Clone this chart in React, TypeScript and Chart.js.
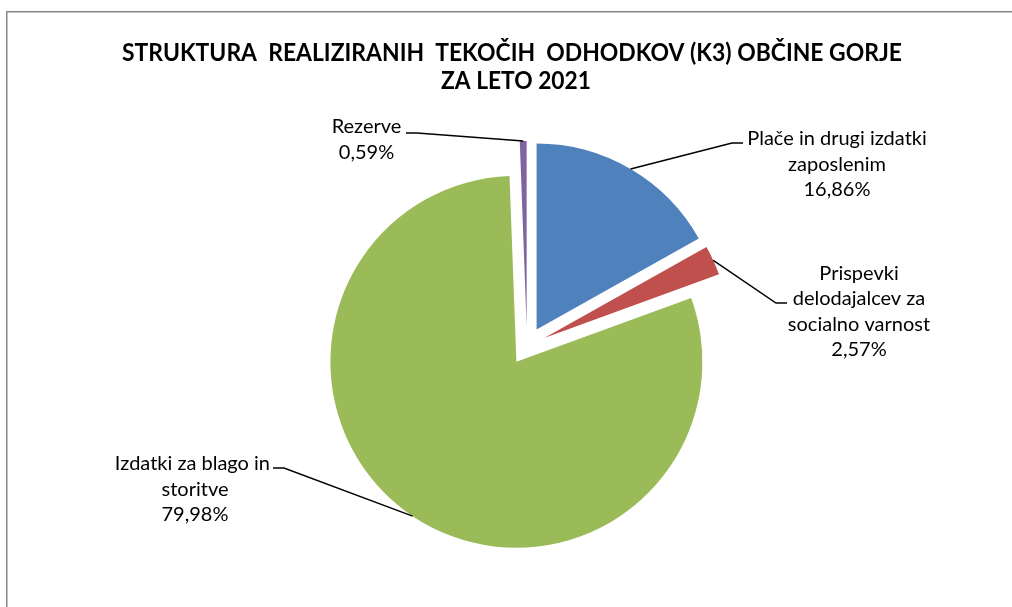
import React, { useEffect, useRef } from "react";
import { Chart, registerables } from "chart.js";

Chart.register(...registerables);

// ---- data ----
const categories = [
  "Plače in drugi izdatki zaposlenim",
  "Prispevki delodajalcev za socialno varnost",
  "Izdatki za blago in storitve",
  "Rezerve",
];
const shares = [16.86, 2.57, 79.98, 0.59];
const labelLines = [
  ["Plače in drugi izdatki", "zaposlenim"],
  ["Prispevki", "delodajalcev za", "socialno varnost"],
  ["Izdatki za blago in ", "storitve"],
  ["Rezerve"],
];
const titleLines = [
  "STRUKTURA  REALIZIRANIH  TEKOČIH  ODHODKOV (K3) OBČINE GORJE",
  "ZA LETO 2021",
];

// ---- styles / layout ----
const colors = ["#4F81BD", "#C0504D", "#9BBB59", "#8064A2"];
const EXPLODE = 19;
const PIE_RADIUS = 186;
const LABEL_FONT = "20px Lato, 'Open Sans', sans-serif";
const TITLE_FONT = "bold 25px Lato, 'Open Sans', sans-serif";
const LINE_H = 25.5;
const labelLayout = [
  { cx: 837, y0: 145, ax: 743, ay: 143, dir: 1 },
  { cx: 859, y0: 279.5, ax: 787, ay: 303, dir: 1 },
  { cx: 195, y0: 470, ax: 273, ay: 468, dir: -1 },
  { cx: 366.5, y0: 133, ax: 406, ay: 133, dir: -1 },
];
const titleLayout = [
  { cx: 512, y: 60.5, maxW: 780 },
  { cx: 516, y: 89, maxW: 150 },
];

const fmtPct = (v: number) => v.toFixed(2).replace(".", ",") + "%";

const explodePlugin = {
  id: "explode",
  afterDatasetUpdate(chart: any, args: any) {
    const meta = chart.getDatasetMeta(args.index);
    meta.data.forEach((arc: any) => {
      const mid = (arc.startAngle + arc.endAngle) / 2;
      arc.x += EXPLODE * Math.cos(mid);
      arc.y += EXPLODE * Math.sin(mid);
    });
  },
};

const decorPlugin = {
  id: "decor",
  beforeDraw(chart: any) {
    const ctx = chart.ctx;
    ctx.save();
    ctx.strokeStyle = "#878787";
    ctx.lineWidth = 1.5;
    ctx.beginPath();
    ctx.moveTo(6.75, chart.height);
    ctx.lineTo(6.75, 11.75);
    ctx.lineTo(chart.width, 11.75);
    ctx.stroke();
    ctx.restore();
  },
  afterDatasetsDraw(chart: any) {
    const ctx = chart.ctx;
    const meta = chart.getDatasetMeta(0);
    ctx.save();
    meta.data.forEach((arc: any, i: number) => {
      const L = labelLayout[i];
      const mid = (arc.startAngle + arc.endAngle) / 2;
      const px = arc.x + arc.outerRadius * Math.cos(mid);
      const py = arc.y + arc.outerRadius * Math.sin(mid);
      ctx.strokeStyle = "#000";
      ctx.lineWidth = 1.5;
      ctx.beginPath();
      ctx.moveTo(px, py);
      ctx.lineTo(L.ax - L.dir * 11, L.ay);
      ctx.lineTo(L.ax, L.ay);
      ctx.stroke();
      const lines = [...labelLines[i], fmtPct(shares[i])];
      ctx.fillStyle = "#000";
      ctx.font = LABEL_FONT;
      ctx.textAlign = "center";
      ctx.textBaseline = "alphabetic";
      lines.forEach((t, k) => ctx.fillText(t, L.cx, L.y0 + k * LINE_H));
    });
    ctx.font = TITLE_FONT;
    ctx.fillStyle = "#000";
    ctx.textAlign = "center";
    ctx.textBaseline = "alphabetic";
    titleLines.forEach((t, k) => {
      const T = titleLayout[k];
      ctx.fillText(t, T.cx, T.y, T.maxW);
    });
    ctx.restore();
  },
};

export default function App() {
  const ref = useRef<HTMLCanvasElement>(null);
  useEffect(() => {
    if (!ref.current) return;
    const chart = new Chart(ref.current, {
      type: "pie",
      data: {
        labels: categories,
        datasets: [
          {
            data: shares,
            backgroundColor: colors,
            borderWidth: 0,
          },
        ],
      },
      options: {
        responsive: false,
        animation: false,
        radius: PIE_RADIUS,
        layout: { padding: { left: 42, top: 85, right: 0, bottom: 0 } },
        plugins: {
          legend: { display: false },
          tooltip: { enabled: false },
          title: { display: false },
        },
      } as any,
      plugins: [explodePlugin, decorPlugin],
    });
    return () => chart.destroy();
  }, []);
  return (
    <div style={{ position: "absolute", left: 0, top: 0, width: 1012, height: 607, background: "#fff" }}>
      <canvas ref={ref} width={1012} height={607} />
    </div>
  );
}
